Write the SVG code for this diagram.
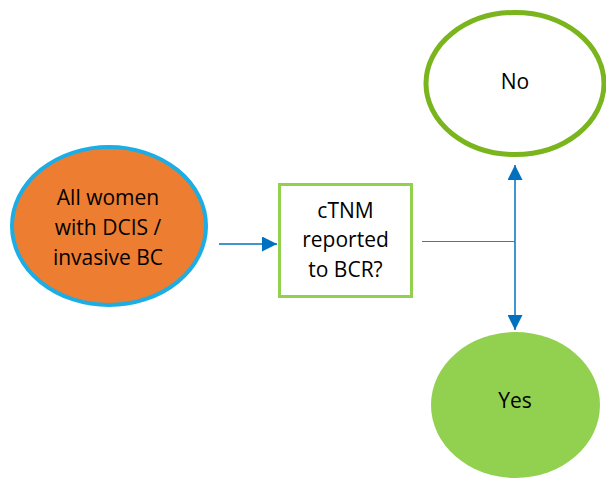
<svg xmlns="http://www.w3.org/2000/svg" width="606" height="479" viewBox="0 0 606 479">
  <style>
    .lbl { font-family: "Open Sans", "Liberation Sans", sans-serif; font-size: 21px; fill: #000; text-anchor: middle; }
    .conn { stroke: #0070C0; stroke-width: 1.5; fill: none; }
  </style>
  <defs>
    <marker id="arrow" viewBox="0 0 10 10" refX="10" refY="5" markerWidth="16" markerHeight="15" markerUnits="userSpaceOnUse" orient="auto">
      <path d="M0,0 L10,5 L0,10 Z" fill="#0070C0"/>
    </marker>
  </defs>
  <rect width="606" height="479" fill="#fff"/>

  <g id="connectors">
    <line class="conn" x1="219" y1="244" x2="277" y2="244" marker-end="url(#arrow)"/>
    <line x1="422" y1="241.5" x2="515" y2="241.5" stroke="#4472C4" stroke-width="1.2"/>
    <line class="conn" x1="515" y1="241.5" x2="515" y2="165" marker-end="url(#arrow)"/>
    <line class="conn" x1="515" y1="241.5" x2="515" y2="330" marker-end="url(#arrow)"/>
  </g>

  <g id="start">
    <ellipse cx="109" cy="226" rx="97" ry="79" fill="#ED7D31" stroke="#1CADE4" stroke-width="4"/>
    <text class="lbl" x="108" y="205">All women</text>
    <text class="lbl" x="108" y="235">with DCIS /</text>
    <text class="lbl" x="108" y="265">invasive BC</text>
  </g>

  <g id="question">
    <rect x="279.5" y="184.5" width="132" height="112" fill="#fff" stroke="#92D050" stroke-width="3"/>
    <text class="lbl" x="345.5" y="218">cTNM</text>
    <text class="lbl" x="345.5" y="247">reported</text>
    <text class="lbl" x="345.5" y="277">to BCR?</text>
  </g>

  <g id="no">
    <ellipse cx="515" cy="83.5" rx="89" ry="71" fill="#fff" stroke="#7AB51D" stroke-width="5"/>
    <text class="lbl" x="515" y="89">No</text>
  </g>

  <g id="yes">
    <ellipse cx="515.5" cy="405" rx="84.5" ry="73" fill="#92D050"/>
    <text class="lbl" x="515" y="408">Yes</text>
  </g>
</svg>
